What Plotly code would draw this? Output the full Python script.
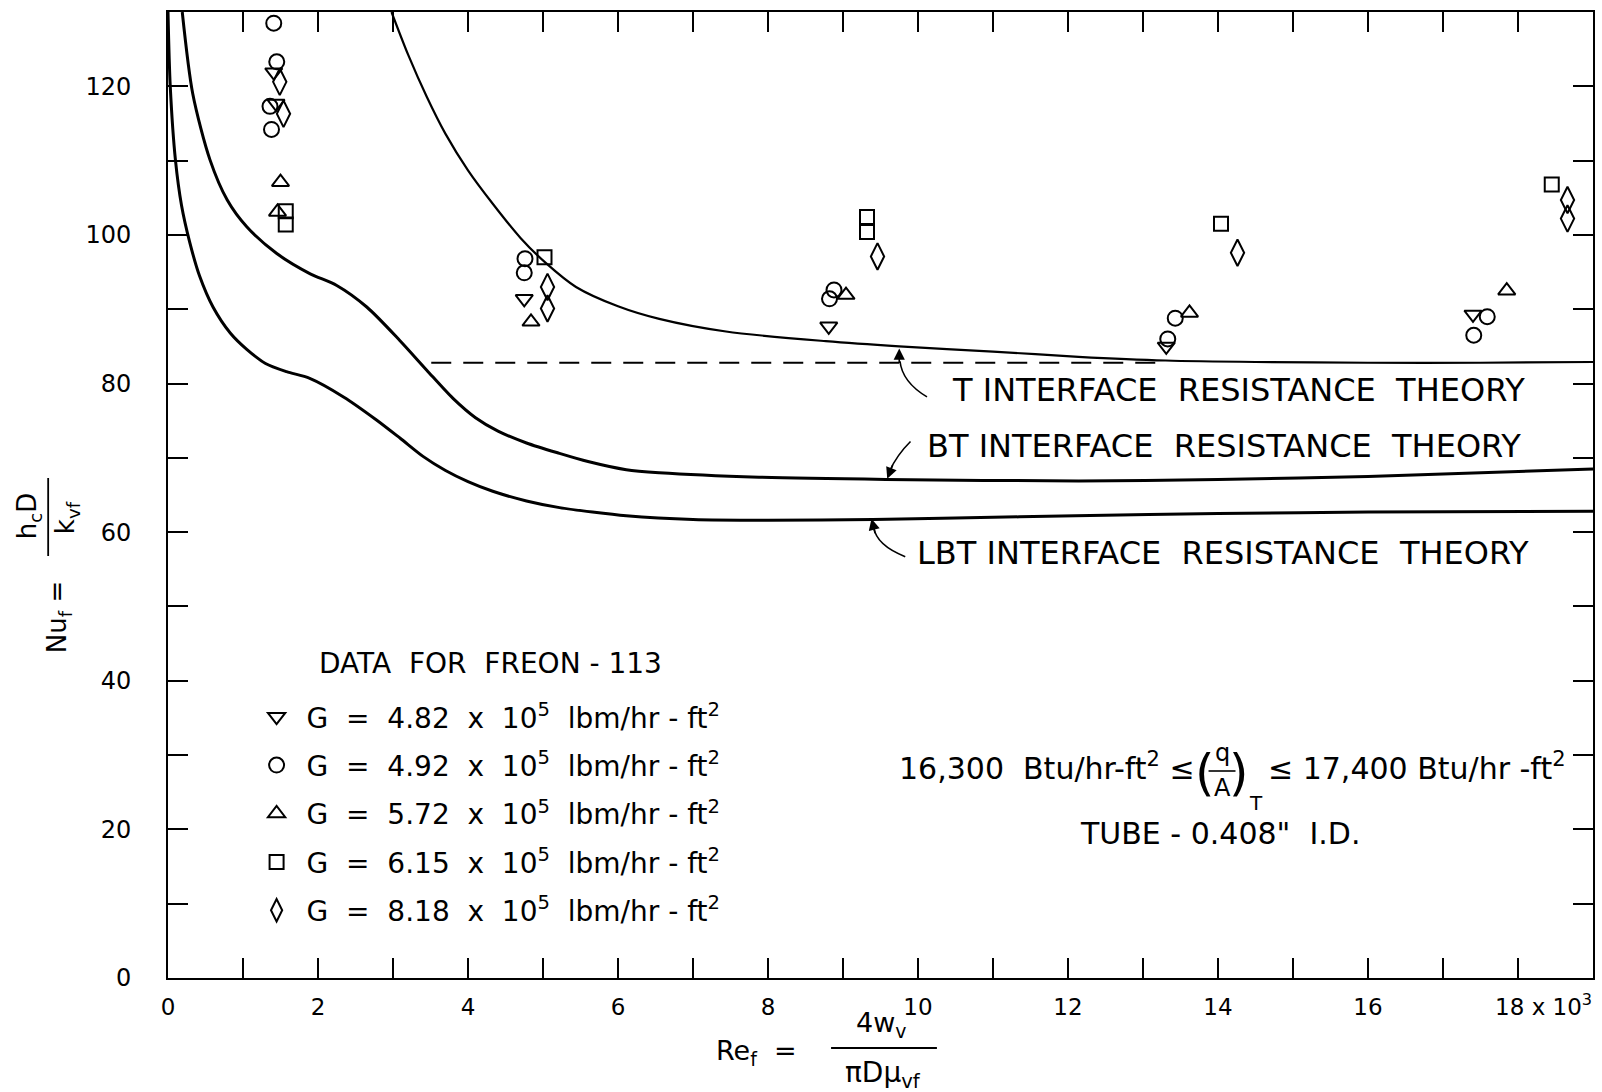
import plotly.graph_objects as go

FONT = "DejaVu Sans"
NB = "\u00a0"

# ---------------- data ----------------
# theory curves: Nu_f vs Re_f (x in thousands)
t_x = [2.98, 3.2, 3.45, 3.7, 4.0, 4.33, 4.7, 5.04, 5.44, 6.0, 6.55, 7.44, 8.77, 9.75, 11.0, 12.14, 13.3, 14.5, 16.0, 17.5, 19.0]
t_y = [130, 124.3, 118.6, 113.6, 108.7, 104.2, 99.6, 96.2, 93.0, 90.4, 88.7, 87.0, 85.7, 85.0, 84.3, 83.6, 83.1, 82.9, 82.8, 82.8, 82.9]

bt_x = [0.19, 0.33, 0.56, 0.79, 1.05, 1.45, 1.89, 2.25, 2.65, 3.09, 3.45, 3.80, 4.10, 4.40, 4.78, 5.22, 5.60, 6.11, 6.55, 7.88, 9.57, 12.14, 14.0, 16.0, 19.0]
bt_y = [130, 119.0, 110.1, 104.7, 101.1, 97.5, 94.8, 93.2, 90.3, 85.8, 81.8, 78.0, 75.4, 73.6, 72.0, 70.6, 69.5, 68.4, 68.0, 67.4, 67.1, 66.9, 67.1, 67.5, 68.5]

lbt_x = [0, 0.03, 0.10, 0.18, 0.29, 0.42, 0.60, 0.83, 1.05, 1.30, 1.58, 1.89, 2.34, 2.78, 3.10, 3.40, 3.70, 4.00, 4.33, 4.78, 5.22, 5.66, 6.11, 7.0, 8.0, 9.4, 10.5, 12.1, 14.0, 16.0, 19.0]
lbt_y = [130, 120, 110, 104, 99, 94.5, 90.3, 86.8, 84.6, 82.7, 81.6, 80.7, 78.2, 75.1, 72.6, 70.2, 68.3, 66.8, 65.5, 64.2, 63.3, 62.7, 62.2, 61.7, 61.6, 61.7, 61.9, 62.2, 62.5, 62.7, 62.8]

dash_x = [3.51, 13.2]
dash_y = [82.8, 82.8]

# experimental data, Freon-113
g482_x = [1.41, 1.44, 4.75, 8.81, 13.31, 17.40]
g482_y = [121.9, 117.7, 91.4, 87.7, 85.0, 89.3]
g492_x = [1.41, 1.45, 1.36, 1.38, 4.76, 4.75, 8.88, 8.82, 13.33, 13.43, 17.59, 17.41]
g492_y = [128.5, 123.3, 117.3, 114.2, 96.8, 94.9, 92.6, 91.4, 86.0, 88.8, 89.0, 86.5]
g572_x = [1.50, 1.46, 4.84, 9.04, 13.62, 17.85]
g572_y = [107.1, 103.1, 88.3, 91.9, 89.5, 92.5]
g615_x = [1.57, 1.57, 5.02, 9.32, 9.32, 14.04, 18.45]
g615_y = [103.2, 101.4, 97.0, 102.4, 100.4, 101.5, 106.8]
g818_x = [1.49, 1.54, 5.06, 5.06, 9.46, 14.26, 18.66, 18.66]
g818_y = [120.6, 116.3, 93.0, 90.1, 97.1, 97.6, 104.7, 102.2]

g_values = ["4.82", "4.92", "5.72", "6.15", "8.18"]
series_names = [
    f"G {NB}={NB} {v} {NB}x{NB} 10<sup>5</sup> {NB}lbm/hr - ft<sup>2</sup>" for v in g_values
]

x_tickvals = [0, 2, 4, 6, 8, 10, 12, 14, 16, 18]
x_ticktext = ["0", "2", "4", "6", "8", "10", "12", "14", "16",
              NB * 7 + "18 x 10<sup>3</sup>"]
y_tickvals = [0, 20, 40, 60, 80, 100, 120]

# ---------------- layout helpers (pixel -> paper) ----------------
W, H = 1602, 1092
ML, MR, MT, MB = 168, 7, 12, 114
PW = W - ML - MR
PH = H - MT - MB


def px(X):
    return (X - ML) / PW


def py(Y):
    return (H - MB - Y) / PH


fig = go.Figure()

line_style = dict(color="black", shape="spline", smoothing=0.8)
fig.add_trace(go.Scatter(x=lbt_x, y=lbt_y, mode="lines", line=dict(width=3, **line_style),
                         showlegend=False, hoverinfo="skip"))
fig.add_trace(go.Scatter(x=bt_x, y=bt_y, mode="lines", line=dict(width=3, **line_style),
                         showlegend=False, hoverinfo="skip"))
fig.add_trace(go.Scatter(x=t_x, y=t_y, mode="lines", line=dict(width=2.2, **line_style),
                         showlegend=False, hoverinfo="skip"))
fig.add_trace(go.Scatter(x=dash_x, y=dash_y, mode="lines",
                         line=dict(color="black", width=2, dash="20px,12px"),
                         showlegend=False, hoverinfo="skip"))

marker_defs = [
    (g482_x, g482_y, "triangle-down-open", 15),
    (g492_x, g492_y, "circle-open", 15),
    (g572_x, g572_y, "triangle-up-open", 15),
    (g615_x, g615_y, "square-open", 14),
    (g818_x, g818_y, "diamond-tall-open", 19),
]
for i, (xs, ys, sym, sz) in enumerate(marker_defs):
    fig.add_trace(go.Scatter(
        x=xs, y=ys, mode="markers", name=series_names[i], legendgroup=f"g{i}",
        marker=dict(symbol=sym, size=sz, color="black", line=dict(color="black", width=2)),
    ))

annotations = []


def txt(text, X, Y, size=28, xanchor="center", yanchor="middle", angle=0):
    annotations.append(dict(text=text, x=px(X), y=py(Y), xref="paper", yref="paper",
                            xanchor=xanchor, yanchor=yanchor, showarrow=False, textangle=angle,
                            font=dict(family=FONT, size=size, color="black")))


# theory labels
txt(f"T INTERFACE {NB}RESISTANCE {NB}THEORY", 951, 390, size=32, xanchor="left")
txt(f"BT INTERFACE {NB}RESISTANCE {NB}THEORY", 926, 446, size=32, xanchor="left")
txt(f"LBT INTERFACE {NB}RESISTANCE {NB}THEORY", 916, 553, size=32, xanchor="left")

# legend title
txt(f"DATA {NB}FOR {NB}FREON - 113", 491, 663, size=28)

# heat flux range
txt(f"16,300{NB} Btu/hr-ft<sup>2</sup> \u2264", 1198, 766, size=30, xanchor="right")
txt("(", 1206, 773, size=50)
txt(")", 1241, 773, size=50)
txt("q", 1223.5, 753, size=24)
txt("A", 1223.5, 788, size=24)
txt("T", 1258, 803, size=20)
txt("\u2264 17,400 Btu/hr -ft<sup>2</sup>", 1268, 766, size=30, xanchor="left")
txt(f"TUBE - 0.408\" {NB}I.D.", 1222, 834, size=30)

# y axis title (rotated fraction)
txt("Nu<sub>f</sub> =", 58, 617, size=26, angle=-90)
txt("h<sub>c</sub>D", 28, 516, size=26, angle=-90)
txt("k<sub>vf</sub>", 66, 518, size=26, angle=-90)

# x axis title (fraction)
txt("Re<sub>f</sub>  =", 757, 1052, size=27)
txt("4w<sub>v</sub>", 882, 1024, size=27)
txt("\u03c0D\u03bc<sub>vf</sub>", 884, 1074, size=28)

# arrow heads
for (hx, hy, ax, ay) in [(9.75, 84.7, 0, 16), (9.59, 67.2, 6, -15), (9.38, 61.8, 4, 16)]:
    annotations.append(dict(x=hx, y=hy, xref="x", yref="y", ax=ax, ay=ay, text="",
                            showarrow=True, arrowhead=2, arrowsize=1.4, arrowwidth=1.6,
                            arrowcolor="black"))

shapes = [
    # curved arrow shafts (data coords)
    dict(type="path", xref="x", yref="y", path="M 10.12,78.2 Q 9.79,80.2 9.76,83.0",
         line=dict(color="black", width=1.6)),
    dict(type="path", xref="x", yref="y", path="M 9.90,72.2 Q 9.72,70.4 9.62,68.2",
         line=dict(color="black", width=1.6)),
    dict(type="path", xref="x", yref="y", path="M 9.83,56.7 Q 9.45,58.2 9.41,60.6",
         line=dict(color="black", width=1.6)),
    # fraction bars
    dict(type="line", xref="paper", yref="paper", x0=px(1210), x1=px(1237), y0=py(771), y1=py(771),
         line=dict(color="black", width=1.6)),
    dict(type="line", xref="paper", yref="paper", x0=px(48), x1=px(48), y0=py(478), y1=py(556),
         line=dict(color="black", width=1.8)),
    dict(type="line", xref="paper", yref="paper", x0=px(832), x1=px(938), y0=py(1048), y1=py(1048),
         line=dict(color="black", width=1.8)),
]

axis_common = dict(
    showline=True, linecolor="black", linewidth=2, mirror="ticks",
    ticks="inside", ticklen=20, tickwidth=1.5, tickcolor="black",
    showgrid=False, zeroline=False,
)

fig.update_layout(
    width=W, height=H,
    margin=dict(l=ML, r=MR, t=MT, b=MB),
    paper_bgcolor="white", plot_bgcolor="white",
    xaxis=dict(range=[0, 19], tickmode="array", tickvals=x_tickvals, ticktext=x_ticktext,
               minor=dict(tickmode="linear", tick0=0, dtick=1, ticks="inside", ticklen=20,
                          tickwidth=1.5, tickcolor="black"),
               tickfont=dict(family=FONT, size=23, color="black"),
               ticklabelstandoff=7, **axis_common),
    yaxis=dict(range=[0, 130], tickmode="array", tickvals=y_tickvals,
               minor=dict(tickmode="linear", tick0=0, dtick=10, ticks="inside", ticklen=20,
                          tickwidth=1.5, tickcolor="black"),
               tickfont=dict(family=FONT, size=24, color="black"),
               ticklabelstandoff=30, **axis_common),
    legend=dict(x=px(246.7), y=py(692), xanchor="left", yanchor="top",
                bgcolor="rgba(0,0,0,0)", borderwidth=0, traceorder="grouped",
                tracegroupgap=9, itemwidth=50,
                font=dict(family=FONT, size=28, color="black")),
    annotations=annotations,
    shapes=shapes,
    hovermode=False,
)

fig.write_html("out.html")
